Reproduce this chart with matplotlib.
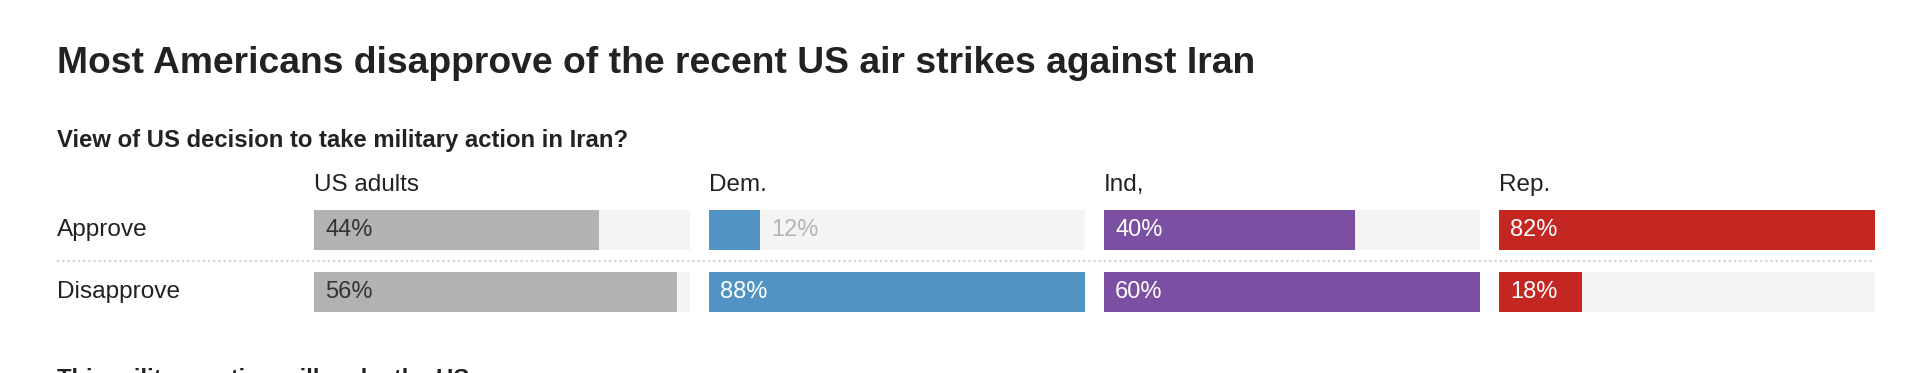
import matplotlib.pyplot as plt
from matplotlib.lines import Line2D

# data
groups = ["US adults", "Dem.", "Ind,", "Rep."]
answers = ["Approve", "Disapprove"]
approve = [44, 12, 40, 82]
disapprove = [56, 88, 60, 18]
# each column is scaled to its own maximum (US adults track ends a bit past 56)
scale_max = [58, 88, 60, 82]
bar_colors = ["#b2b2b2", "#5193c3", "#7b4fa2", "#c42622"]
label_colors = ["#333333", "white", "white", "white"]

W, H = 1916, 373
DPI = 100
plt.rcParams["font.family"] = ["Liberation Sans", "DejaVu Sans"]

fig = plt.figure(figsize=(W / DPI, H / DPI), dpi=DPI)

# full-figure axes in pixel units for text and the rule
bg = fig.add_axes([0, 0, 1, 1])
bg.set_xlim(0, W)
bg.set_ylim(H, 0)
bg.axis("off")

bg.text(57, 73, "Most Americans disapprove of the recent US air strikes against Iran",
        fontsize=26.8, fontweight="bold", color="#222222", va="baseline")
bg.text(57, 147, "View of US decision to take military action in Iran?",
        fontsize=17.2, fontweight="bold", color="#222222", va="baseline")
# next question, cut off by the bottom edge like in the original
bg.text(57, 386, "This military action will make the US",
        fontsize=17.2, fontweight="bold", color="#222222", va="baseline", clip_on=True)

col_left = [314, 709, 1104, 1499]
col_w = 376
row_center = [230, 292]
row_gap = row_center[1] - row_center[0]
bar_h = 40 / row_gap

for lbl, yc in zip(answers, row_center):
    bg.text(57, yc, lbl, fontsize=17.6, color="#222222", va="center")

# dotted separator between rows
bg.add_line(Line2D([57, col_left[-1] + col_w], [261, 261], color="#cfcfcf",
                   linestyle=(0, (1, 1.5)), linewidth=1.5))

for i, g in enumerate(groups):
    bg.text(col_left[i], 191, g, fontsize=17.5, color="#222222", va="baseline")

    top = row_center[0] - row_gap / 2
    ax = fig.add_axes([col_left[i] / W, 1 - (top + 2 * row_gap) / H,
                       col_w / W, 2 * row_gap / H])
    ax.set_xlim(0, scale_max[i])
    ax.set_ylim(1.5, -0.5)
    ax.axis("off")

    vals = [approve[i], disapprove[i]]
    ax.barh([0, 1], [scale_max[i]] * 2, height=bar_h, color="#f4f4f4")
    ax.barh([0, 1], vals, height=bar_h, color=bar_colors[i])
    for y, v in enumerate(vals):
        if v < 15:
            ax.annotate(f"{v}%", (v, y), xytext=(11, 0), textcoords="offset pixels",
                        fontsize=17, color="#b5b5b5", va="center")
        else:
            ax.annotate(f"{v}%", (0, y), xytext=(11, 0), textcoords="offset pixels",
                        fontsize=17, color=label_colors[i], va="center")

fig.savefig("out.png", dpi=DPI)
